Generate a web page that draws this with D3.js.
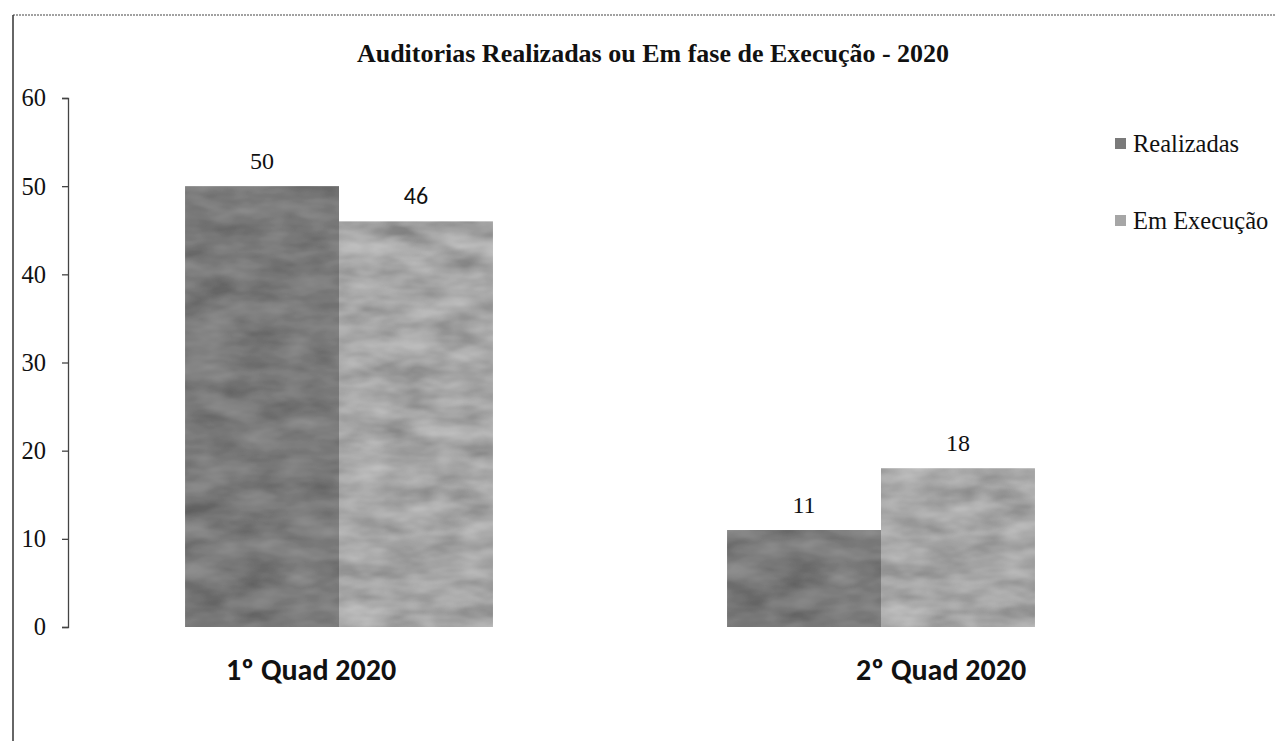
<!DOCTYPE html>
<html lang="pt">
<head>
<meta charset="utf-8">
<script src="https://cdn.jsdelivr.net/npm/d3@7"></script>
<style>
  html, body { margin: 0; padding: 0; background: #fff; }
  svg { display: block; }
</style>
</head>
<body>
<script>
// Audit counts per four-month period
const categories = ["1º Quad 2020", "2º Quad 2020"];
const seriesNames = ["Realizadas", "Em Execução"];
const realizadas = [50, 11];
const emExecucao = [46, 18];
const yTicks = [0, 10, 20, 30, 40, 50, 60];

const W = 1275, H = 741;
const plot = { left: 68, right: 1152, top: 98, bottom: 627 };
const seriesColors = ["#7a7a7a", "#a6a6a6"];
const labelShift = [-28, 60];   // category label nudges (text boxes in the source layout)
const serif = "'Liberation Serif', 'Times New Roman', serif";
const sans = "Carlito, 'Open Sans', 'Liberation Sans', sans-serif";

const svg = d3.select("body").append("svg")
  .attr("width", W).attr("height", H);

// Mottled print texture for the bars
const defs = svg.append("defs");
const tex = defs.append("filter").attr("id", "mottle")
  .attr("x", 0).attr("y", 0).attr("width", 1).attr("height", 1);
tex.append("feTurbulence").attr("type", "fractalNoise")
  .attr("baseFrequency", "0.02 0.05").attr("numOctaves", 3).attr("seed", 7).attr("result", "n");
tex.append("feComponentTransfer").attr("in", "n").attr("result", "lum")
  .call(ct => {
    ["feFuncR", "feFuncG", "feFuncB"].forEach(f =>
      ct.append(f).attr("type", "linear").attr("slope", 1.6).attr("intercept", -0.3));
    ct.append("feFuncA").attr("type", "table").attr("tableValues", "0.45 0.45");
  });
tex.append("feColorMatrix").attr("in", "lum").attr("type", "saturate").attr("values", 0).attr("result", "gray");
tex.append("feComposite").attr("in", "gray").attr("in2", "SourceGraphic").attr("operator", "in").attr("result", "g2");
tex.append("feBlend").attr("in", "g2").attr("in2", "SourceGraphic").attr("mode", "overlay");

// Frame
svg.append("line").attr("x1", 13).attr("x2", W).attr("y1", 15).attr("y2", 15)
  .attr("stroke", "#444").attr("stroke-width", 1.2).attr("stroke-dasharray", "2,1");
svg.append("line").attr("x1", 13).attr("x2", 13).attr("y1", 15).attr("y2", H)
  .attr("stroke", "#333").attr("stroke-width", 1.5);

// Scales
const x0 = d3.scaleBand().domain(categories)
  .range([plot.left, plot.right]).paddingInner(0.432).paddingOuter(0.216);
const x1 = d3.scaleBand().domain(seriesNames).range([0, x0.bandwidth()]);
const y = d3.scaleLinear().domain([0, 60]).range([plot.bottom, plot.top]);

// Title
svg.append("text").attr("x", 653).attr("y", 62).attr("text-anchor", "middle")
  .attr("font-family", serif)
  .attr("font-weight", "bold").attr("font-size", 26).attr("fill", "#111")
  .text("Auditorias Realizadas ou Em fase de Execução - 2020");

// Y axis
const yAxis = d3.axisLeft(y).tickValues(yTicks).tickSize(6).tickPadding(16);
const gy = svg.append("g").attr("transform", `translate(${plot.left},0)`).call(yAxis);
gy.select(".domain").attr("stroke", "#444").attr("stroke-width", 1.3);
gy.selectAll(".tick line").attr("stroke", "#444").attr("stroke-width", 1.3);
gy.selectAll(".tick text")
  .attr("font-family", serif)
  .attr("font-size", 24.5).attr("fill", "#111");

// Bars
const rows = categories.map((c, i) => ({
  cat: c,
  vals: [
    { s: seriesNames[0], v: realizadas[i], k: 0 },
    { s: seriesNames[1], v: emExecucao[i], k: 1 }
  ]
}));

const groups = svg.selectAll(".grp").data(rows).enter().append("g")
  .attr("class", "grp").attr("transform", d => `translate(${x0(d.cat)},0)`);

groups.selectAll("rect").data(d => d.vals).enter().append("rect")
  .attr("x", d => x1(d.s)).attr("width", x1.bandwidth())
  .attr("y", d => y(d.v)).attr("height", d => y(0) - y(d.v))
  .attr("fill", d => seriesColors[d.k]).attr("filter", "url(#mottle)");

// Value labels
groups.selectAll(".val").data(d => d.vals).enter().append("text")
  .attr("class", "val")
  .attr("x", d => x1(d.s) + x1.bandwidth() / 2)
  .attr("y", d => y(d.v) - 17)
  .attr("text-anchor", "middle")
  .attr("font-family", d => (d.v === 46 ? sans : serif))
  .attr("font-size", 24).attr("fill", "#111")
  .text(d => d.v);

// Category labels
svg.selectAll(".cat").data(categories).enter().append("text")
  .attr("class", "cat")
  .attr("x", (d, i) => x0(d) + x0.bandwidth() / 2 + labelShift[i])
  .attr("y", 680).attr("text-anchor", "middle")
  .attr("font-family", sans)
  .attr("font-weight", "bold").attr("font-size", 30).attr("fill", "#111")
  .text(d => d);

// Legend
const legend = svg.selectAll(".leg").data(seriesNames).enter().append("g")
  .attr("class", "leg").attr("transform", (d, i) => `translate(1115,${138 + i * 77})`);
legend.append("rect").attr("width", 11).attr("height", 11)
  .attr("fill", (d, i) => seriesColors[i]);
legend.append("text").attr("x", 18).attr("y", 14)
  .attr("font-family", serif)
  .attr("font-size", 24.5).attr("fill", "#111")
  .text(d => d);
</script>
</body>
</html>
